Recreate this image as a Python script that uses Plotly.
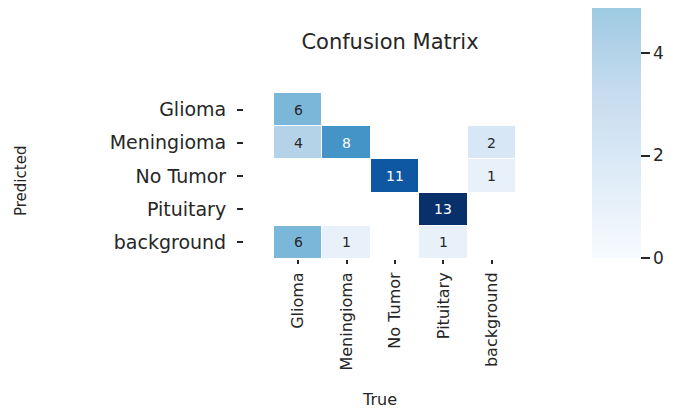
import plotly.graph_objects as go
from plotly.colors import sequential

# confusion matrix: rows = predicted, columns = true
classes = ["Glioma", "Meningioma", "No Tumor", "Pituitary", "background"]
row_glioma = [6, 0, 0, 0, 0]
row_meningioma = [4, 8, 0, 0, 2]
row_no_tumor = [0, 0, 11, 0, 1]
row_pituitary = [0, 0, 0, 13, 0]
row_background = [6, 1, 0, 1, 0]
counts = [row_glioma, row_meningioma, row_no_tumor, row_pituitary, row_background]
colorbar_ticks = [0, 2, 4, 6, 8, 10, 12]

W, H = 673, 412
OFF = 8  # the page body has an 8px margin, so the figure sits 8px in
font_family = "DejaVu Sans, Verdana, sans-serif"
ink = "#262626"

# zero cells are masked like in seaborn
z = [[v if v != 0 else None for v in row] for row in counts]
vmax = max(max(row) for row in counts)

# plot box in window pixels
left, right, top, bottom = 243 - OFF, 516 - OFF, 93 - OFF, 259 - OFF
plot_h = bottom - top
plot_w = right - left

heat = go.Heatmap(
    x=classes,
    y=classes,
    z=z,
    zmin=0,
    zmax=vmax,
    colorscale=sequential.Blues,
    xgap=1,
    ygap=1,
    hoverongaps=False,
    colorbar=dict(
        lenmode="fraction",
        len=666 / plot_h,
        y=(bottom - (258 - OFF)) / plot_h,
        yanchor="bottom",
        x=(592 - OFF - left) / plot_w,
        xanchor="left",
        thickness=49,
        xpad=0,
        ypad=0,
        outlinewidth=0,
        ticks="outside",
        ticklen=9,
        tickwidth=1.5,
        tickcolor=ink,
        tickvals=colorbar_ticks,
        tickfont=dict(size=17, color=ink, family=font_family),
    ),
)

fig = go.Figure(data=[heat])

# cell labels, white on dark cells
for i, row in enumerate(counts):
    for j, v in enumerate(row):
        if v == 0:
            continue
        fig.add_annotation(
            x=classes[j], y=classes[i], text=str(v), showarrow=False,
            font=dict(size=14, family=font_family,
                      color="white" if v / vmax > 0.55 else ink),
        )

fig.update_layout(
    width=W,
    height=H,
    margin=dict(l=left, r=W - right, t=top, b=H - bottom, autoexpand=False),
    paper_bgcolor="white",
    plot_bgcolor="white",
    font=dict(family=font_family, color=ink),
    title=dict(text="Confusion Matrix", x=(390 - OFF) / W, xanchor="center",
               y=1 - (42 - OFF) / H, yanchor="middle",
               font=dict(size=21, color=ink)),
    showlegend=False,
)
fig.update_xaxes(
    domain=[(274 - OFF - left) / plot_w, 1],
    showgrid=False, zeroline=False, showline=False,
    ticks="outside", ticklen=4, tickwidth=1.5, tickcolor=ink,
    tickangle=-90, ticklabelstandoff=2,
    tickfont=dict(size=16, color=ink),
)
fig.update_yaxes(
    anchor="free", position=0, autorange="reversed",
    showgrid=False, zeroline=False, showline=False,
    ticks="outside", ticklen=6, tickwidth=1.5, tickcolor=ink,
    ticklabelstandoff=7,
    tickfont=dict(size=19, color=ink),
)

# axis titles
fig.add_annotation(text="Predicted", xref="paper", yref="paper",
                   x=(21 - OFF - left) / plot_w, y=(bottom - (181 - OFF)) / plot_h,
                   xanchor="center", yanchor="middle",
                   textangle=-90, showarrow=False, font=dict(size=15, color=ink))
fig.add_annotation(text="True", xref="paper", yref="paper",
                   x=(379 - OFF - left) / plot_w, y=-((399 - OFF) - bottom) / plot_h,
                   xanchor="center", yanchor="middle",
                   showarrow=False, font=dict(size=16, color=ink))

fig.write_html("out.html")
